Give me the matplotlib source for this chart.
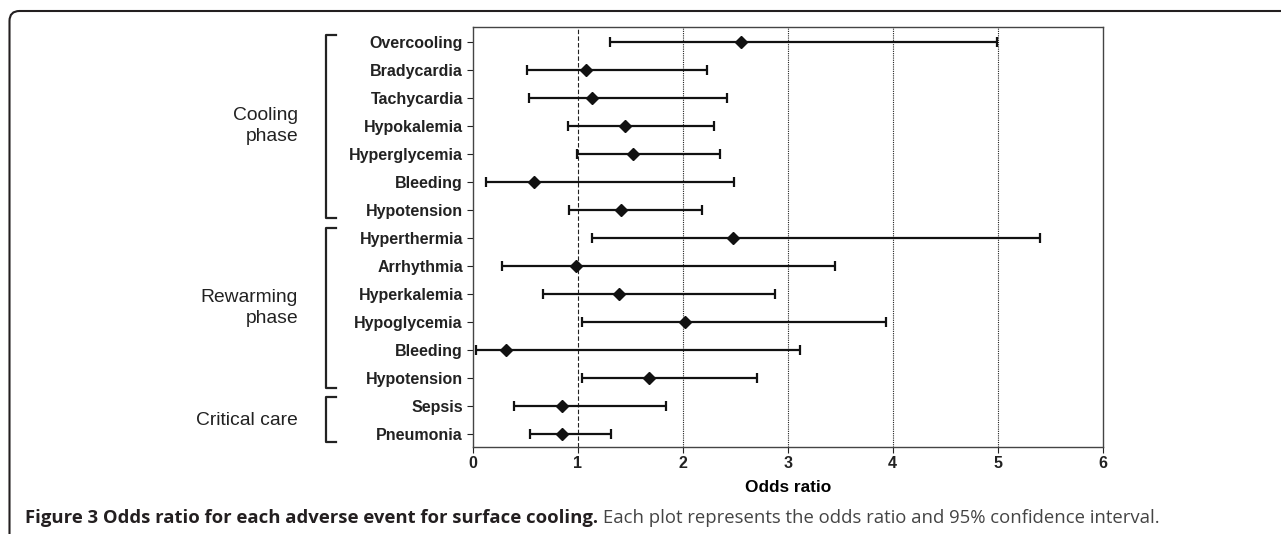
import numpy as np
import matplotlib.pyplot as plt
from matplotlib.patches import FancyBboxPatch
from matplotlib.transforms import IdentityTransform

events = ['Overcooling', 'Bradycardia', 'Tachycardia', 'Hypokalemia', 'Hyperglycemia',
          'Bleeding', 'Hypotension', 'Hyperthermia', 'Arrhythmia', 'Hyperkalemia',
          'Hypoglycemia', 'Bleeding', 'Hypotension', 'Sepsis', 'Pneumonia']
odds = [2.56, 1.08, 1.14, 1.45, 1.53, 0.58, 1.41, 2.48, 0.98, 1.39, 2.02, 0.32, 1.68, 0.85, 0.85]
ci_low = [1.31, 0.52, 0.54, 0.91, 0.99, 0.13, 0.92, 1.14, 0.28, 0.67, 1.04, 0.03, 1.04, 0.39, 0.55]
ci_high = [4.99, 2.23, 2.42, 2.30, 2.36, 2.49, 2.18, 5.40, 3.45, 2.88, 3.94, 3.12, 2.71, 1.84, 1.32]

groups = ['Cooling\nphase', 'Rewarming\nphase', 'Critical care']
group_rows = [(0, 6), (7, 12), (13, 14)]

W, H = 1281, 534
fig = plt.figure(figsize=(W / 100, H / 100), dpi=100)
ax = fig.add_axes([472.7 / W, 1 - 446.7 / H, 630 / W, (446.7 - 27.3) / H])

y = np.arange(len(events))
odds = np.array(odds)
lo = odds - np.array(ci_low)
hi = np.array(ci_high) - odds
ax.errorbar(odds, y, xerr=[lo, hi], fmt='D', color='#111111', ms=6.5, lw=1.6,
            capsize=3.6, capthick=1.6, zorder=3)

ax.axvline(1, color='#222222', lw=0.8, ls=(0, (4, 2)), zorder=1)
for v in [2, 3, 4, 5]:
    ax.axvline(v, color='#222222', lw=0.8, ls=(0, (1, 1)), zorder=1)

ax.set_xlim(0, 6)
ax.set_ylim(14.45, -0.52)
ax.set_xticks(range(7))
ax.set_yticks(y)
ax.set_yticklabels(events)
for lab in ax.get_yticklabels() + ax.get_xticklabels():
    lab.set_fontfamily('Liberation Sans')
    lab.set_fontweight('bold')
    lab.set_fontsize(11.5)
ax.tick_params(axis='y', length=4, width=0.8, pad=3, colors='#222222')
ax.tick_params(axis='x', length=4, width=0.8, pad=3, colors='#222222')
ax.set_xlabel('Odds ratio', fontfamily='Liberation Sans', fontweight='bold',
              fontsize=12.4, labelpad=6)
for s in ax.spines.values():
    s.set_color('#444444')
    s.set_linewidth(1.0)

# group brackets and labels (data y, axes-fraction x)
br_spans = [(-0.25, 6.27), (6.65, 12.36), (12.66, 14.27)]
trans = ax.get_yaxis_transform()
bx = (326 - 472.7) / 630
bx2 = (336 - 472.7) / 630
tx = (298 - 472.7) / 630
for name, (r0, r1), (b0, b1) in zip(groups, group_rows, br_spans):
    ax.plot([bx2, bx, bx, bx2], [b0, b0, b1, b1], color='#222222', lw=1.6,
            transform=trans, clip_on=False)
    ax.text(tx, (r0 + r1) / 2, name, transform=trans, ha='right', va='center',
            fontfamily='Liberation Sans', fontsize=13.9, color='#222222',
            linespacing=1.25)

# panel frame with rounded top-left corner
frame = FancyBboxPatch((9.5, -40), 1400, (H - 11) + 40,
                       boxstyle='round,pad=0,rounding_size=10',
                       transform=IdentityTransform(), fill=False,
                       ec='#231f20', lw=1.5)
fig.patches.append(frame)

cap_b = fig.text(25 / W, 1 - 518 / H, 'Figure 3 Odds ratio for each adverse event for surface cooling.',
                 fontfamily='Open Sans', fontweight='bold', fontsize=13.3, color='#231f20',
                 va='center', ha='left')
fig.canvas.draw()
bb = cap_b.get_window_extent()
fig.text((bb.x1 + 5) / W, 1 - 518 / H,
         'Each plot represents the odds ratio and 95% confidence interval.',
         fontfamily='Open Sans', fontsize=13.3, color='#444444', va='center', ha='left')

fig.savefig('out.png', dpi=100)
